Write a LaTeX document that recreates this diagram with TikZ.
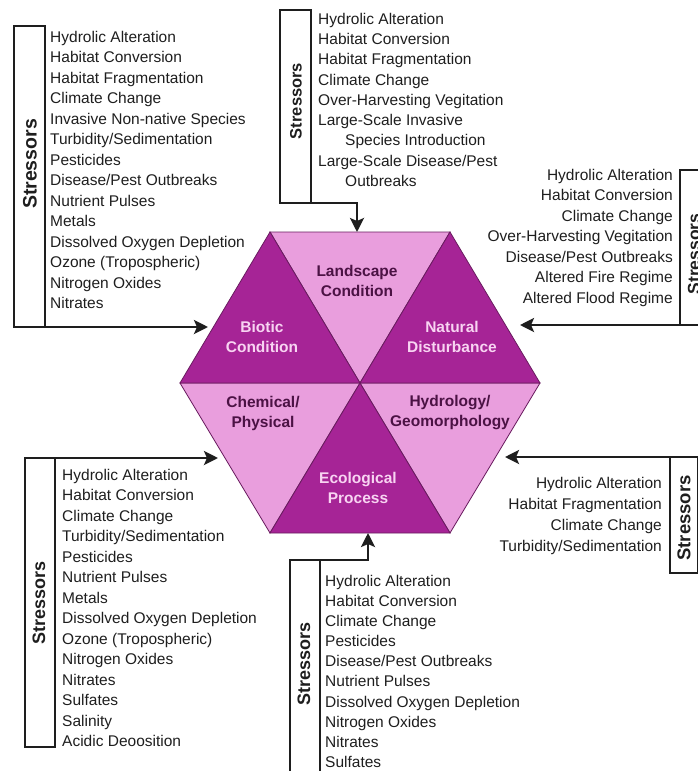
\documentclass[tikz,border=0pt]{standalone}
\usepackage{fontspec}
\setmainfont{Liberation Sans}
\usetikzlibrary{arrows.meta}
\definecolor{hexdark}{RGB}{166,36,150}
\definecolor{hexlight}{RGB}{233,158,221}
\definecolor{hexedge}{RGB}{105,28,95}
\definecolor{txtdark}{RGB}{75,18,68}
\definecolor{txtlight}{RGB}{248,212,242}
\definecolor{ink}{RGB}{30,30,30}
\tikzset{
  darktri/.style={fill=hexdark, draw=hexedge, line width=0.8pt, line join=miter},
  lighttri/.style={fill=hexlight, draw=hexedge, line width=0.8pt, line join=miter},
  hexlabel/.style={font=\fontsize{15.5}{20}\selectfont\bfseries, align=center, inner sep=0pt},
  onlight/.style={hexlabel, text=txtdark},
  ondark/.style={hexlabel, text=txtlight},
  listtext/.style={font=\fontsize{15.5}{20.5}\selectfont, text=ink, inner sep=0pt},
  boxline/.style={draw=ink, line width=1.3pt},
  feed/.style={draw=ink, line width=2.6pt, line join=miter,
     -{Stealth[length=14pt,width=14pt,inset=3pt]}},
  stresslabel/.style={rotate=90, text=ink, inner sep=0pt}
}
\begin{document}
\begin{tikzpicture}[x=1pt,y=-1pt]
\useasboundingbox (0,0) rectangle (698,771);
% hexagon vertices
\coordinate (C) at (360,383);
\coordinate (TL) at (270,232);
\coordinate (TR) at (450,232);
\coordinate (L) at (180,383);
\coordinate (R) at (540,383);
\coordinate (BL) at (270,533);
\coordinate (BR) at (450,533);
\filldraw[lighttri] (TL) -- (TR) -- (C) -- cycle;
\filldraw[lighttri] (L) -- (C) -- (BL) -- cycle;
\filldraw[lighttri] (R) -- (C) -- (BR) -- cycle;
\filldraw[darktri] (TL) -- (L) -- (C) -- cycle;
\filldraw[darktri] (TR) -- (R) -- (C) -- cycle;
\filldraw[darktri] (BL) -- (BR) -- (C) -- cycle;
\node[onlight] (landscape) at (357,281) {Landscape\\Condition};
\node[ondark] (biotic) at (262,337) {Biotic\\Condition};
\node[ondark] (natural) at (452,337) {Natural\\Disturbance};
\node[onlight] (chemical) at (263,413) {Chemical/\\Physical};
\node[onlight] (hydro) at (450,413) {Hydrology/\\Geomorphology};
\node[ondark] (ecol) at (358,488) {Ecological\\Process};

% ---- Box 1 (top left) -> Biotic
\draw[boxline] (14,26) rectangle (45,327);
\coordinate (b1a) at (14,26);
\coordinate (b1b) at (14,327);
\coordinate (b1t) at (208,327);
\draw[feed] (b1a) -- (b1b) -- (b1t);
\node[stresslabel, font=\fontsize{19.5}{20}\selectfont\bfseries] (s1) at (30,164) {Stressors};
\node[listtext, anchor=north west, align=left] (list1) at (50,31) {Hydrolic Alteration\\Habitat Conversion\\Habitat Fragmentation\\Climate Change\\Invasive Non-native Species\\Turbidity/Sedimentation\\Pesticides\\Disease/Pest Outbreaks\\Nutrient Pulses\\Metals\\Dissolved Oxygen Depletion\\Ozone (Tropospheric)\\Nitrogen Oxides\\Nitrates};

% ---- Box 2 (top centre) -> Landscape
\draw[boxline] (280,10) rectangle (311,203);
\coordinate (b2a) at (280,10);
\coordinate (b2b) at (280,203);
\coordinate (b2c) at (357,203);
\draw[feed] (b2a) -- (b2b) -- (b2c) -- (TL -| b2c);
\node[stresslabel, font=\fontsize{16.5}{17}\selectfont\bfseries] (s2) at (296,101) {Stressors};
\node[listtext, anchor=north west, align=left, font=\fontsize{15.5}{20.25}\selectfont] (list2) at (318,13) {Hydrolic Alteration\\Habitat Conversion\\Habitat Fragmentation\\Climate Change\\Over-Harvesting Vegitation\\Large-Scale Invasive\\\hspace*{27pt}Species Introduction\\Large-Scale Disease/Pest\\\hspace*{27pt}Outbreaks};

% ---- Box 3 (top right) -> Natural Disturbance
\draw[boxline] (680,170) rectangle (712,325);
\coordinate (b3a) at (712,170);
\coordinate (b3b) at (712,325);
\coordinate (b3t) at (520,325);
\draw[feed] (b3a) -- (b3b) -- (b3t);
\node[stresslabel, font=\fontsize{17.5}{18}\selectfont\bfseries] (s3) at (694,254) {Stressors};
\node[listtext, anchor=north east, align=right] (list3) at (673,169) {Hydrolic Alteration\\Habitat Conversion\\Climate Change\\Over-Harvesting Vegitation\\Disease/Pest Outbreaks\\Altered Fire Regime\\Altered Flood Regime};

% ---- Box 4 (bottom left) -> Chemical/Physical
\draw[boxline] (25,458) rectangle (55,747);
\coordinate (b4a) at (25,747);
\coordinate (b4b) at (25,458);
\coordinate (b4t) at (218,458);
\draw[feed] (b4a) -- (b4b) -- (b4t);
\node[stresslabel, font=\fontsize{18}{18}\selectfont\bfseries] (s4) at (39,603) {Stressors};
\node[listtext, anchor=north west, align=left] (list4) at (62,469) {Hydrolic Alteration\\Habitat Conversion\\Climate Change\\Turbidity/Sedimentation\\Pesticides\\Nutrient Pulses\\Metals\\Dissolved Oxygen Depletion\\Ozone (Tropospheric)\\Nitrogen Oxides\\Nitrates\\Sulfates\\Salinity\\Acidic Deoosition};

% ---- Box 5 (bottom right) -> Hydrology
\draw[boxline] (670,457) rectangle (698,573);
\coordinate (b5a) at (700,573);
\coordinate (b5b) at (700,457);
\coordinate (b5t) at (505,457);
\draw[feed] (b5a) -- (b5b) -- (b5t);
\node[stresslabel, font=\fontsize{18.5}{19}\selectfont\bfseries] (s5) at (684,518) {Stressors};
\node[listtext, anchor=north east, align=right, font=\fontsize{15.5}{21}\selectfont] (list5) at (662,477) {Hydrolic Alteration\\Habitat Fragmentation\\Climate Change\\Turbidity/Sedimentation};

% ---- Box 6 (bottom centre) -> Ecological Process
\draw[boxline] (290,560) rectangle (320,800);
\coordinate (b6a) at (290,800);
\coordinate (b6b) at (290,560);
\coordinate (b6c) at (368,560);
\draw[feed] (b6a) -- (b6b) -- (b6c) -- (BL -| b6c);
\node[stresslabel, font=\fontsize{18}{18}\selectfont\bfseries] (s6) at (304,664) {Stressors};
\node[listtext, anchor=north west, align=left, font=\fontsize{15.5}{20.1}\selectfont] (list6) at (325,575) {Hydrolic Alteration\\Habitat Conversion\\Climate Change\\Pesticides\\Disease/Pest Outbreaks\\Nutrient Pulses\\Dissolved Oxygen Depletion\\Nitrogen Oxides\\Nitrates\\Sulfates};
\end{tikzpicture}
\end{document}
